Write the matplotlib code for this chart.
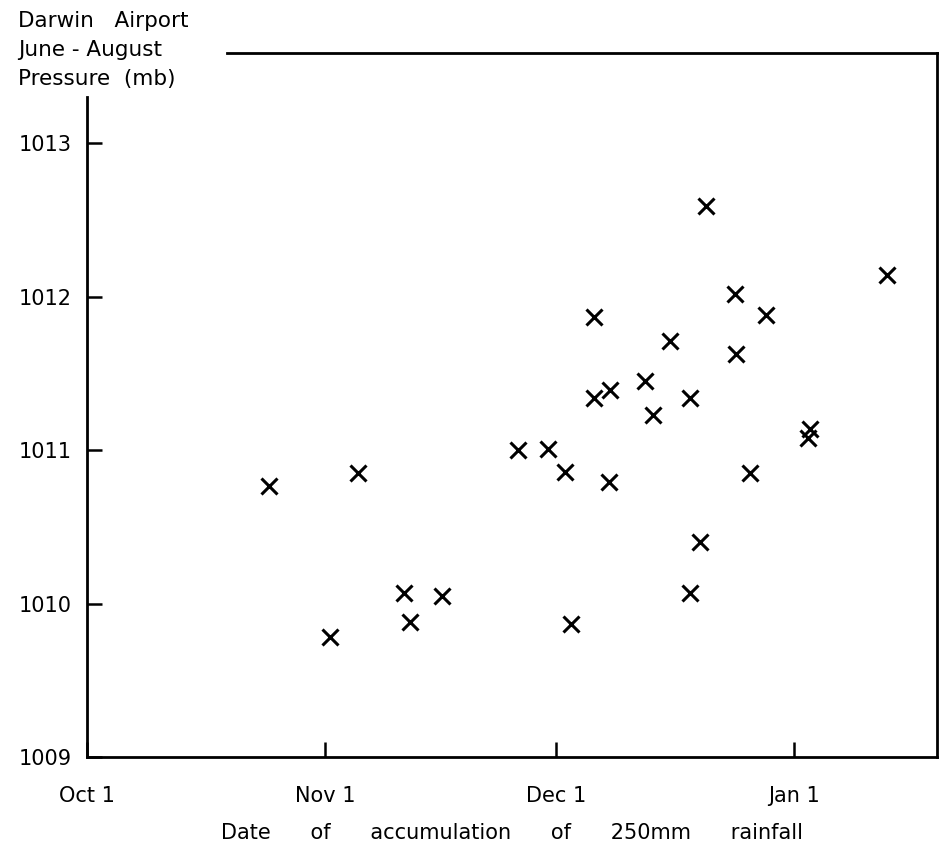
import matplotlib
matplotlib.use("Agg")
import matplotlib.pyplot as plt

# days after Oct 1 on which 250mm of rainfall had accumulated
days = [23.7, 35.3, 31.7, 41.2, 42.1, 46.2, 56.1, 60.0, 62.2, 63.0,
        66.0, 66.0, 68.0, 67.9, 72.6, 73.7, 75.8, 78.4, 78.4, 79.7,
        80.5, 84.3, 84.4, 86.2, 88.3, 94.0, 93.8, 104.0]
# Darwin Airport June-August mean pressure (mb)
pressure = [1010.77, 1010.85, 1009.78, 1010.07, 1009.88, 1010.05, 1011.00, 1011.01, 1010.86, 1009.87,
            1011.87, 1011.34, 1011.39, 1010.79, 1011.45, 1011.23, 1011.71, 1011.34, 1010.07, 1010.40,
            1012.59, 1012.02, 1011.63, 1010.85, 1011.88, 1011.14, 1011.08, 1012.14]

tick_days = [0, 31, 61, 92]
tick_names = ["Oct 1", "Nov 1", "Dec 1", "Jan 1"]
p_ticks = [1009, 1010, 1011, 1012, 1013]
title_lines = ["Darwin   Airport", "June - August", "Pressure  (mb)"]

plt.rcParams["font.family"] = "DejaVu Sans"

fig = plt.figure(figsize=(9.43, 8.55), dpi=100)
ax = fig.add_axes([86.7 / 943, 1 - 757 / 855, (936.5 - 86.7) / 943, (757 - 53) / 855])

ax.plot(days, pressure, "x", color="black", ms=11, mew=2.2)

ax.set_xlim(0, 110.5)
ax.set_ylim(1009, 1013.59)
ax.set_xticks(tick_days)
ax.set_xticklabels(tick_names)
ax.set_yticks(p_ticks)
ax.set_yticklabels([str(p) for p in p_ticks])

for s in ax.spines.values():
    s.set_linewidth(2)
    s.set_color("black")
# the frame is broken where the axis title sits
ax.spines["left"].set_bounds(1009, 1013.3)
ax.spines["top"].set_bounds(18.2, 110.5)

ax.tick_params(axis="both", direction="in", length=11, width=1.8, labelsize=15, colors="black")
ax.tick_params(axis="x", pad=21)
ax.tick_params(axis="y", pad=11)

ax.set_xlabel("Date      of      accumulation      of      250mm      rainfall",
              fontsize=15, labelpad=12)

for i, line in enumerate(title_lines):
    fig.text(18 / 943, 1 - (21 + 29 * i) / 855, line, fontsize=15.5, va="center", ha="left")

fig.savefig("out.png", dpi=100)
